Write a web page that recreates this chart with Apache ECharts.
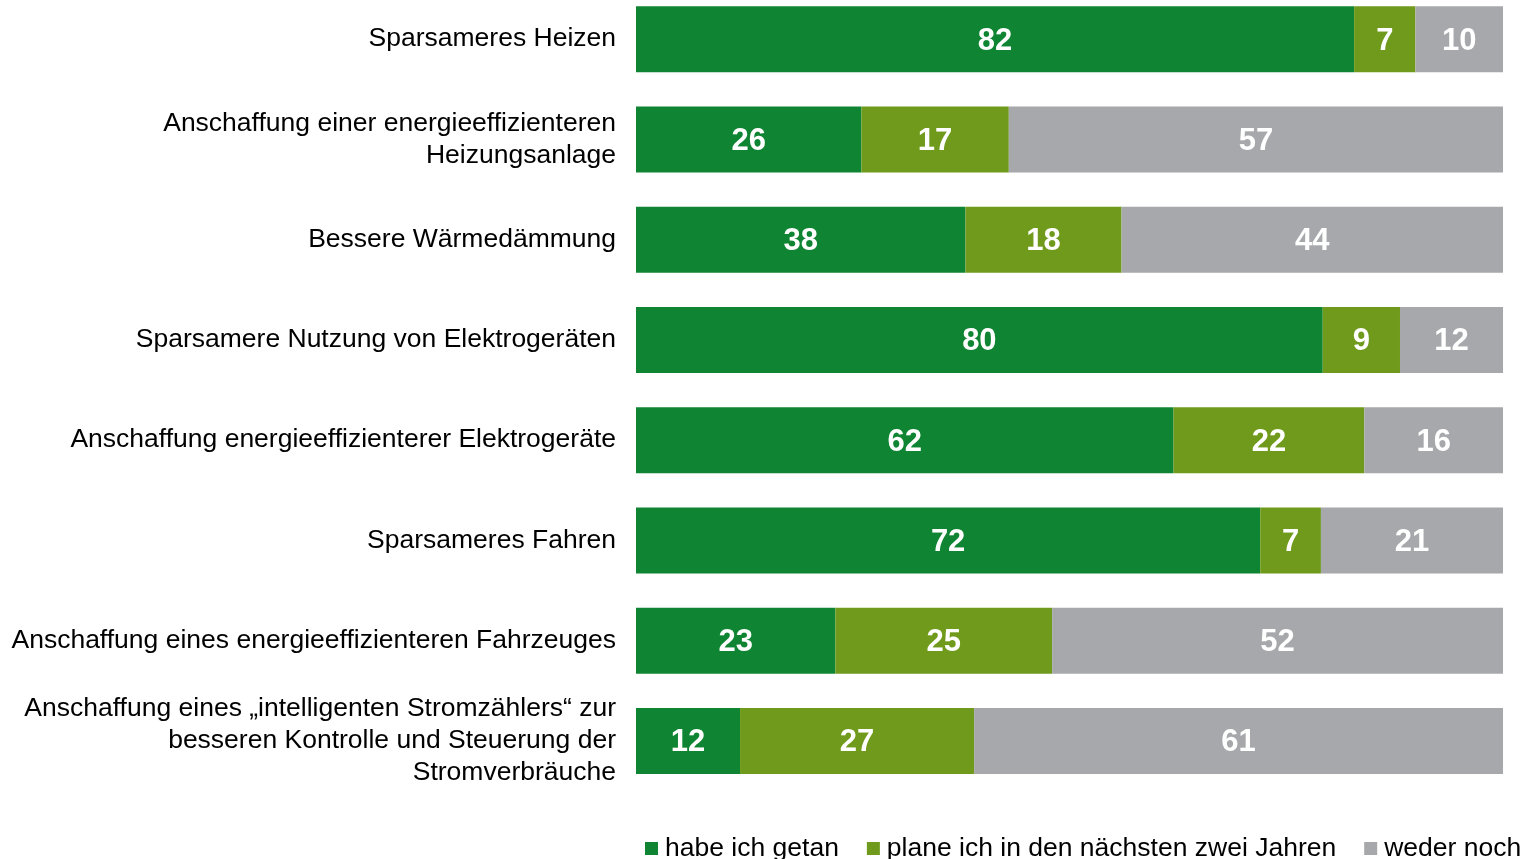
<!DOCTYPE html>
<html>
<head>
<meta charset="utf-8">
<script src="https://cdn.jsdelivr.net/npm/echarts@6/dist/echarts.min.js"></script>
<style>
html,body{margin:0;padding:0;background:#fff;overflow:hidden;}
#c{width:1523px;height:870px;margin-top:-11px;}
</style>
</head>
<body>
<div id="c"></div>
<script>
const categories = [
  'Sparsameres Heizen',
  'Anschaffung einer energieeffizienteren\nHeizungsanlage',
  'Bessere Wärmedämmung',
  'Sparsamere Nutzung von Elektrogeräten',
  'Anschaffung energieeffizienterer Elektrogeräte',
  'Sparsameres Fahren',
  'Anschaffung eines energieeffizienteren Fahrzeuges',
  'Anschaffung eines „intelligenten Stromzählers“ zur\nbesseren Kontrolle und Steuerung der\nStromverbräuche'
];
const seriesNames = ['habe ich getan', 'plane ich in den nächsten zwei Jahren', 'weder noch'];
const habeIchGetan = [82, 26, 38, 80, 62, 72, 23, 12];
const planeIch     = [7, 17, 18, 9, 22, 7, 25, 27];
const wederNoch    = [10, 57, 44, 12, 16, 21, 52, 61];
const colors = ['#0F8432', '#6F9A1B', '#A7A8AB'];

const raw = [habeIchGetan, planeIch, wederNoch];
const totals = categories.map((_, i) => raw[0][i] + raw[1][i] + raw[2][i]);

const font = '"Liberation Sans", Arial, sans-serif';
const chart = echarts.init(document.getElementById('c'), null, {renderer: 'canvas'});
chart.setOption({
  animation: false,
  textStyle: {fontFamily: font},
  grid: {left: 636, right: 20, top: 0, bottom: 68, containLabel: false},
  xAxis: {type: 'value', min: 0, max: 100, show: false},
  yAxis: {
    type: 'category', inverse: true, data: categories,
    axisLine: {show: false}, axisTick: {show: false}, splitLine: {show: false},
    axisLabel: {fontSize: 26.5, lineHeight: 32, color: '#000', fontFamily: font, margin: 20, align: 'right', padding: [4, 0, 0, 0]}
  },
  legend: {
    left: 645, top: 846, width: 1000, padding: 0, itemWidth: 13, itemHeight: 13, itemGap: 28,
    icon: 'rect',
    textStyle: {fontSize: 26.5, color: '#000', fontFamily: font, padding: [0, 0, 0, 2]},
    data: seriesNames
  },
  series: raw.map((arr, s) => ({
    name: seriesNames[s],
    type: 'bar',
    stack: 'total',
    barWidth: 66,
    itemStyle: {color: colors[s]},
    label: {
      show: true, position: 'inside', offset: [0, 2], color: '#fff', fontWeight: 'bold', fontSize: 31, fontFamily: font,
      formatter: p => String(arr[p.dataIndex])
    },
    data: arr.map((v, i) => v / totals[i] * 100)
  }))
});
</script>
</body>
</html>
